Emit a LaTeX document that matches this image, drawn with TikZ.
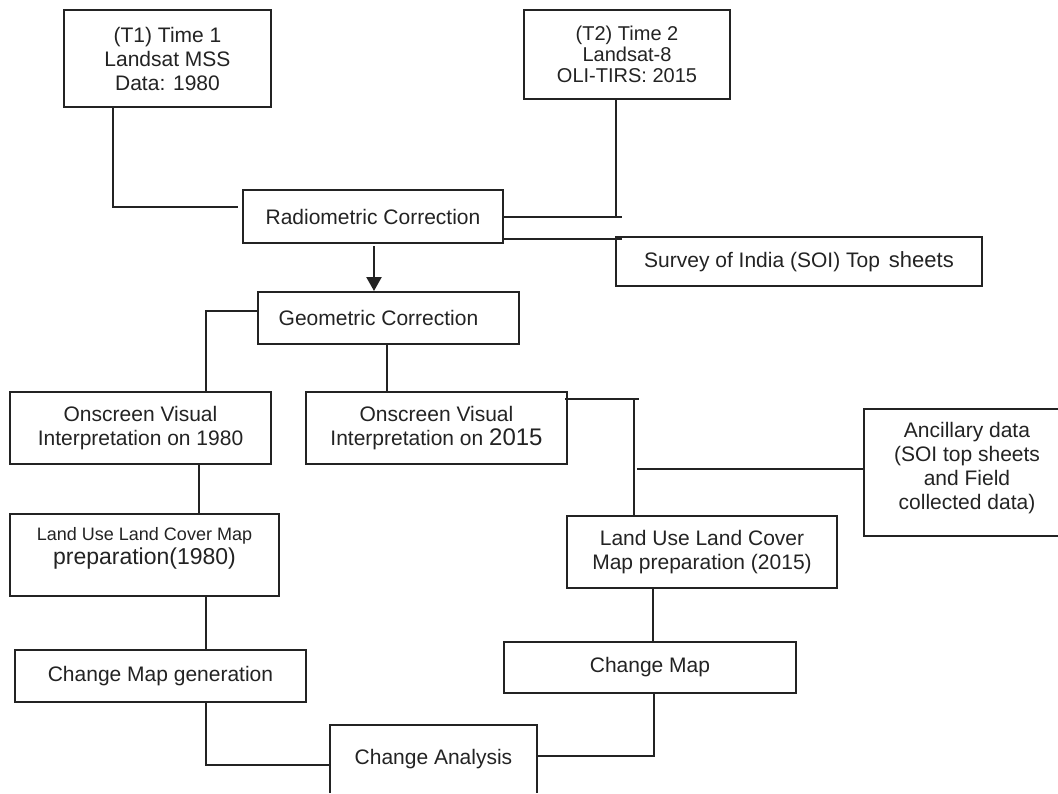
\documentclass[tikz,border=0pt]{standalone}
\usepackage{fontspec}
\setmainfont{Liberation Sans}
\usetikzlibrary{calc,arrows.meta}
\definecolor{ink}{RGB}{35,35,35}
\begin{document}
\begin{tikzpicture}[x=1pt,y=-1pt,
  box/.style={draw=ink, line width=1.9pt, rectangle, inner sep=0pt, outer sep=0pt, align=center,
    text=ink, font=\fontsize{21}{24}\selectfont},
  conn/.style={draw=ink, line width=1.9pt},
  bigarrow/.style={draw=ink, fill=ink, line width=2.4pt, -{Triangle[width=15pt,length=14pt]}}]
\useasboundingbox (0,0) rectangle (1058,793);
\clip (0,0) rectangle (1058,793);
\fill[white] (0,0) rectangle (1058,793);

% boxes
\node[box, minimum width=207pt, minimum height=97pt] (t1) at (167.5,58.5)
  {(T1) Time 1\\Landsat MSS\\Data: 1980};
\node[box, minimum width=206pt, minimum height=89pt, font=\fontsize{20}{21}\selectfont] (t2) at (627,54.5)
  {(T2) Time 2\\Landsat-8\\OLI-TIRS: 2015};
\node[box, minimum width=260pt, minimum height=53pt] (rad) at (373,216.5)
  {Radiometric Correction};
\node[box, minimum width=366pt, minimum height=49pt] (soi) at (799,261.5)
  {Survey of India (SOI) Top\rule{9pt}{0pt}{\fontsize{22}{24}\selectfont sheets}};
\node[box, minimum width=261pt, minimum height=52pt] (geo) at (388.5,318)
  {Geometric Correction\rule{20pt}{0pt}};
\node[box, minimum width=261pt, minimum height=72pt] (ov1) at (140.5,428)
  {Onscreen Visual\\Interpretation on 1980};
\node[box, minimum width=261pt, minimum height=72pt] (ov2) at (436.5,428)
  {Onscreen Visual\\Interpretation on {\fontsize{24}{24}\selectfont 2015}};
\node[box, minimum width=206pt, minimum height=127pt,
  label={[box, draw=none, yshift=4pt]center:Ancillary data\\(SOI top sheets\\and Field\\collected data)}]
  (anc) at (967,472.5) {};
\node[box, minimum width=269pt, minimum height=82pt,
  label={[box, draw=none, yshift=7pt]center:{\fontsize{18}{18}\selectfont Land Use Land Cover Map}\\{\fontsize{23}{25}\selectfont preparation(1980)}}]
  (lu1) at (144.5,555) {};
\node[box, minimum width=270pt, minimum height=72pt] (lu2) at (702,552)
  {Land Use Land Cover\\Map preparation (2015)};
\node[box, minimum width=291pt, minimum height=52pt] (cmg) at (160.5,676)
  {Change Map generation};
\node[box, minimum width=292pt, minimum height=51pt] (cm) at (650,667.5)
  {Change Map};
\node[box, minimum width=207pt, minimum height=68pt, draw=none] (ca) at (433.5,759)
  {Change Analysis};
\draw[conn] (ca.south west) -- (ca.north west) -- (ca.north east) -- (ca.south east);

% connectors
\draw[conn] ($(t1.south west)+(49,0)$) |- ($(rad.west)+(-5,-9.5)$);
\draw[conn] ($(t2.south west)+(92,0)$) coordinate (t2c) -- (t2c |- rad.east);
\draw[conn] ($(rad.east)+(0,0.5)$) -- ++(119,0);
\draw[conn] ($(rad.east)+(0,22.5)$) -- ($(soi.north west)+(6,2)$);
\draw[bigarrow] ($(rad.south)+(1,3)$) -- ($(geo.north west)+(116,-1)$);
\draw[conn] ($(geo.west)+(0,-7)$) -| ($(ov1.north west)+(196,0)$);
\draw[conn] ($(geo.south)+(-1.5,0)$) coordinate (gc) -- (gc |- ov2.north);
\draw[conn] ($(ov2.north east)+(-2,7)$) -- ++(74,0);
\draw[conn] ($(ov2.north east)+(67,7)$) coordinate (ovc) -- (ovc |- lu2.north);
\draw[conn] ($(anc.west)+(0,-3.5)$) -- ++(-227,0);
\draw[conn] ($(ov1.south west)+(189,0)$) -- ($(lu1.north west)+(189,0)$);
\draw[conn] ($(lu1.south west)+(196,0)$) -- ($(cmg.north west)+(191,0)$);
\draw[conn] ($(cmg.south west)+(191,0)$) |- ($(ca.west)+(0,6)$);
\draw[conn] ($(lu2.south west)+(86,0)$) -- ($(cm.north west)+(149,0)$);
\draw[conn] ($(cm.south west)+(150,0)$) |- ($(ca.east)+(0,-3)$);
\end{tikzpicture}
\end{document}
